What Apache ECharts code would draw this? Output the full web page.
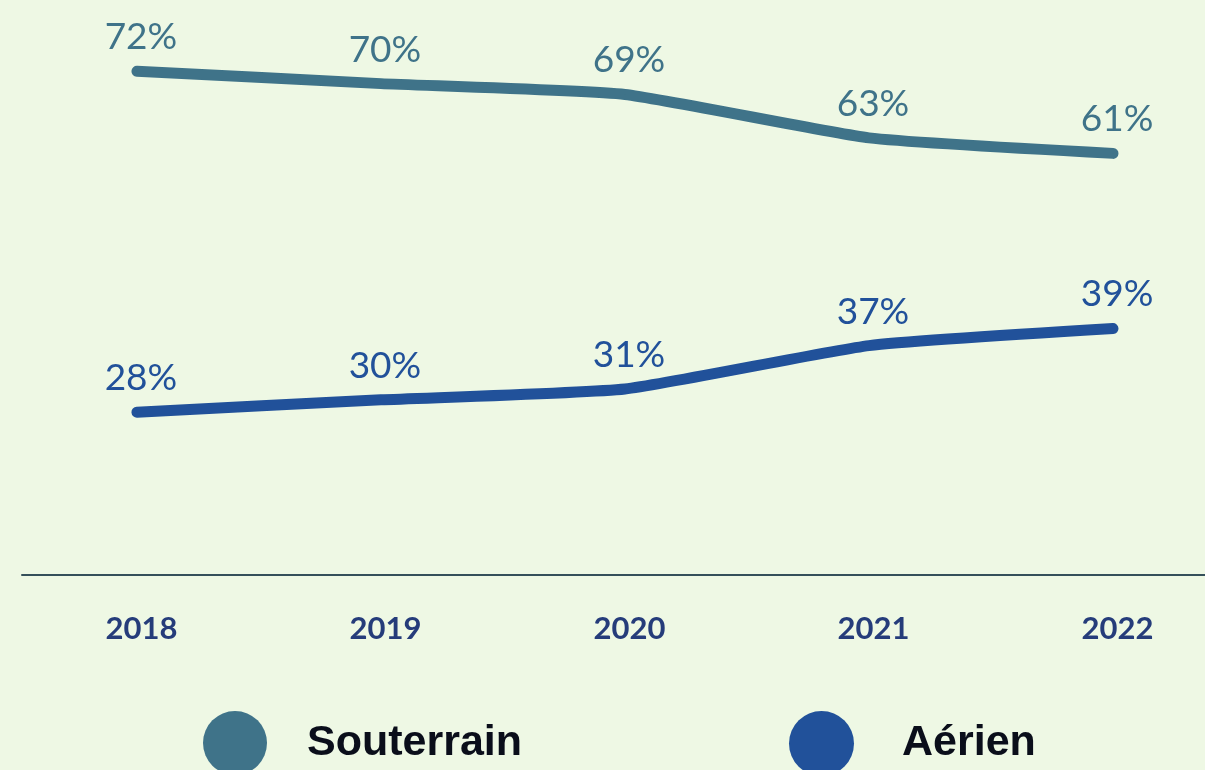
<!DOCTYPE html>
<html>
<head>
<meta charset="utf-8">
<script src="https://cdn.jsdelivr.net/npm/echarts@6/dist/echarts.min.js"></script>
<style>
  html, body { margin: 0; padding: 0; background: #eef8e4; }
  #chart { width: 1205px; height: 770px; }
</style>
</head>
<body>
<div id="chart"></div>
<script>
const years = [2018, 2019, 2020, 2021, 2022];
const souterrain = [72, 70.4, 69, 63.4, 61.4];
const aerien = [28, 29.6, 31, 36.6, 38.8];

const COL_SOUT = "#3f7389";
const COL_AER = "#21519a";

const chart = echarts.init(document.getElementById("chart"));

function lineSeries(name, vals, color) {
  return {
    name: name,
    type: "line",
    showSymbol: true,
    symbol: "circle",
    symbolSize: 1,
    smooth: 0.15,
    lineStyle: { width: 11, color: color, cap: "round", join: "round" },
    itemStyle: { color: color },
    label: {
      show: true,
      position: "top",
      distance: 15,
      offset: [4, 0],
      color: color,
      fontFamily: "Lato",
      fontSize: 37,
      formatter: p => Math.round(p.value[1]) + "%"
    },
    emphasis: { disabled: true },
    data: years.map((y, i) => [y, vals[i]])
  };
}

chart.setOption({
  backgroundColor: "#eef8e4",
  animation: false,
  grid: { left: 22, right: 0, top: 0, height: 575 },
  xAxis: {
    type: "value",
    min: 2017.529,
    max: 2022.377,
    splitLine: { show: false },
    axisTick: { show: false },
    axisLine: { show: true, onZero: false, lineStyle: { color: "#34505a", width: 2 } },
    axisLabel: {
      customValues: years,
      margin: 38,
      padding: [0, 0, 0, 9],
      color: "#253c7a",
      fontFamily: "Lato",
      fontWeight: "bold",
      fontSize: 31,
      formatter: v => String(v)
    }
  },
  yAxis: { type: "value", min: 7, max: 81.19, show: false, splitLine: { show: false } },
  legend: [
    {
      data: ["Souterrain"], left: 203, top: 711, padding: 0,
      icon: "circle", itemWidth: 64, itemHeight: 64,
      textStyle: { fontFamily: "Liberation Sans", fontWeight: "bold", fontSize: 43, color: "#0a0e1a", padding: [6, 0, 0, 35] }
    },
    {
      data: ["Aérien"], left: 789, top: 711, padding: 0,
      icon: "circle", itemWidth: 65, itemHeight: 65,
      textStyle: { fontFamily: "Liberation Sans", fontWeight: "bold", fontSize: 43, color: "#0a0e1a", padding: [6, 0, 0, 43] }
    }
  ],
  series: [
    lineSeries("Souterrain", souterrain, COL_SOUT),
    lineSeries("Aérien", aerien, COL_AER)
  ]
});
</script>
</body>
</html>
